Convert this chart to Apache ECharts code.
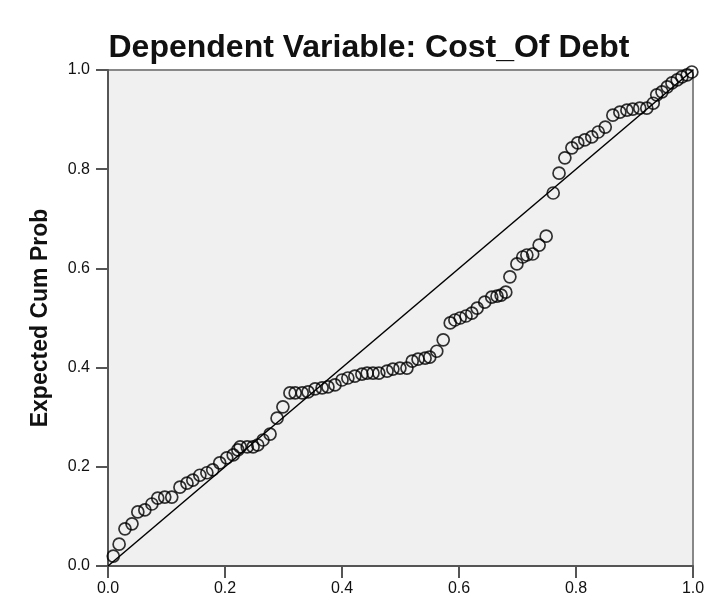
<!DOCTYPE html>
<html>
<head>
<meta charset="utf-8">
<script src="https://cdn.jsdelivr.net/npm/echarts@6/dist/echarts.min.js"></script>
<style>
html,body{margin:0;padding:0;background:#fff;}
#chart{width:710px;height:605px;}
</style>
</head>
<body>
<div id="chart"></div>
<script>
// Observed cumulative probability (x) and expected cumulative probability (y)
var observedCumProb = [
  0.009,0.019,0.029,0.041,0.051,0.063,0.075,0.085,0.097,0.109,
  0.123,0.135,0.145,0.157,0.169,0.179,0.191,0.203,0.214,0.222,
  0.226,0.238,0.248,0.256,0.265,0.277,0.289,0.299,0.311,0.320,
  0.332,0.342,0.354,0.366,0.376,0.388,0.400,0.410,0.422,0.434,
  0.443,0.453,0.463,0.477,0.487,0.499,0.511,0.520,0.530,0.542,
  0.550,0.562,0.573,0.585,0.593,0.602,0.612,0.622,0.631,0.644,
  0.656,0.665,0.672,0.680,0.687,0.699,0.709,0.716,0.726,0.737,
  0.749,0.761,0.771,0.781,0.793,0.803,0.815,0.827,0.838,0.850,
  0.863,0.875,0.887,0.897,0.909,0.921,0.932,0.938,0.947,0.956,
  0.964,0.973,0.981,0.990,0.998
];
var expectedCumProb = [
  0.020,0.044,0.075,0.085,0.109,0.113,0.125,0.137,0.139,0.139,
  0.159,0.167,0.173,0.183,0.188,0.194,0.208,0.218,0.224,0.234,
  0.240,0.240,0.240,0.244,0.254,0.266,0.298,0.321,0.349,0.349,
  0.349,0.351,0.357,0.359,0.361,0.365,0.375,0.379,0.383,0.387,
  0.389,0.389,0.389,0.393,0.397,0.399,0.399,0.413,0.417,0.419,
  0.421,0.433,0.456,0.490,0.496,0.500,0.504,0.510,0.520,0.532,
  0.542,0.544,0.546,0.552,0.583,0.609,0.623,0.627,0.629,0.647,
  0.665,0.752,0.792,0.823,0.843,0.853,0.859,0.865,0.875,0.885,
  0.909,0.915,0.919,0.921,0.923,0.923,0.933,0.950,0.956,0.966,
  0.974,0.980,0.986,0.990,0.996
];
var referenceLine = [[0,0],[1,1]];
var tickLabels = ['0.0','0.2','0.4','0.6','0.8','1.0'];
var chartTitle = 'Dependent Variable: Cost_Of Debt';
var yAxisTitle = 'Expected Cum Prob';

var points = observedCumProb.map(function(x,i){return [x, expectedCumProb[i]];});
function fmt(v){ return tickLabels[Math.round(v*5)]; }

var chart = echarts.init(document.getElementById('chart'), null, {renderer:'canvas'});
chart.setOption({
  animation:false,
  backgroundColor:'#ffffff',
  title:{
    text: chartTitle,
    left: 364, top: 27, textAlign:'center',
    textStyle:{fontFamily:'Liberation Sans, Arial, sans-serif', fontWeight:'bold', fontSize:32, color:'#111'}
  },
  grid:{left:108, top:70, width:585, height:496, show:true, backgroundColor:'#f0f0f0', borderColor:'#888', borderWidth:2},
  xAxis:{
    type:'value', min:0, max:1, interval:0.2,
    axisLine:{show:true, lineStyle:{color:'#555', width:2}},
    axisTick:{show:true, length:12, lineStyle:{color:'#555', width:2}},
    axisLabel:{formatter:fmt, color:'#111', fontSize:16, fontFamily:'Liberation Sans, Arial, sans-serif', margin:15},
    splitLine:{show:false}
  },
  yAxis:{
    type:'value', min:0, max:1, interval:0.2,
    name: yAxisTitle, nameLocation:'middle', nameGap:56,
    nameTextStyle:{fontFamily:'Liberation Sans, Arial, sans-serif', fontWeight:'bold', fontSize:23, color:'#111'},
    axisLine:{show:true, lineStyle:{color:'#555', width:2}},
    axisTick:{show:true, length:12, lineStyle:{color:'#555', width:2}},
    axisLabel:{formatter:fmt, color:'#111', fontSize:16, fontFamily:'Liberation Sans, Arial, sans-serif', margin:18},
    splitLine:{show:false}
  },
  series:[
    {
      type:'line', data: referenceLine, symbol:'none', silent:true,
      lineStyle:{color:'#000', width:1.5}, z:2
    },
    {
      type:'scatter', data: points, symbol:'circle', symbolSize:12,
      itemStyle:{color:'rgba(0,0,0,0)', borderColor:'#000', borderWidth:1.7}, z:3
    }
  ]
});
</script>
</body>
</html>
